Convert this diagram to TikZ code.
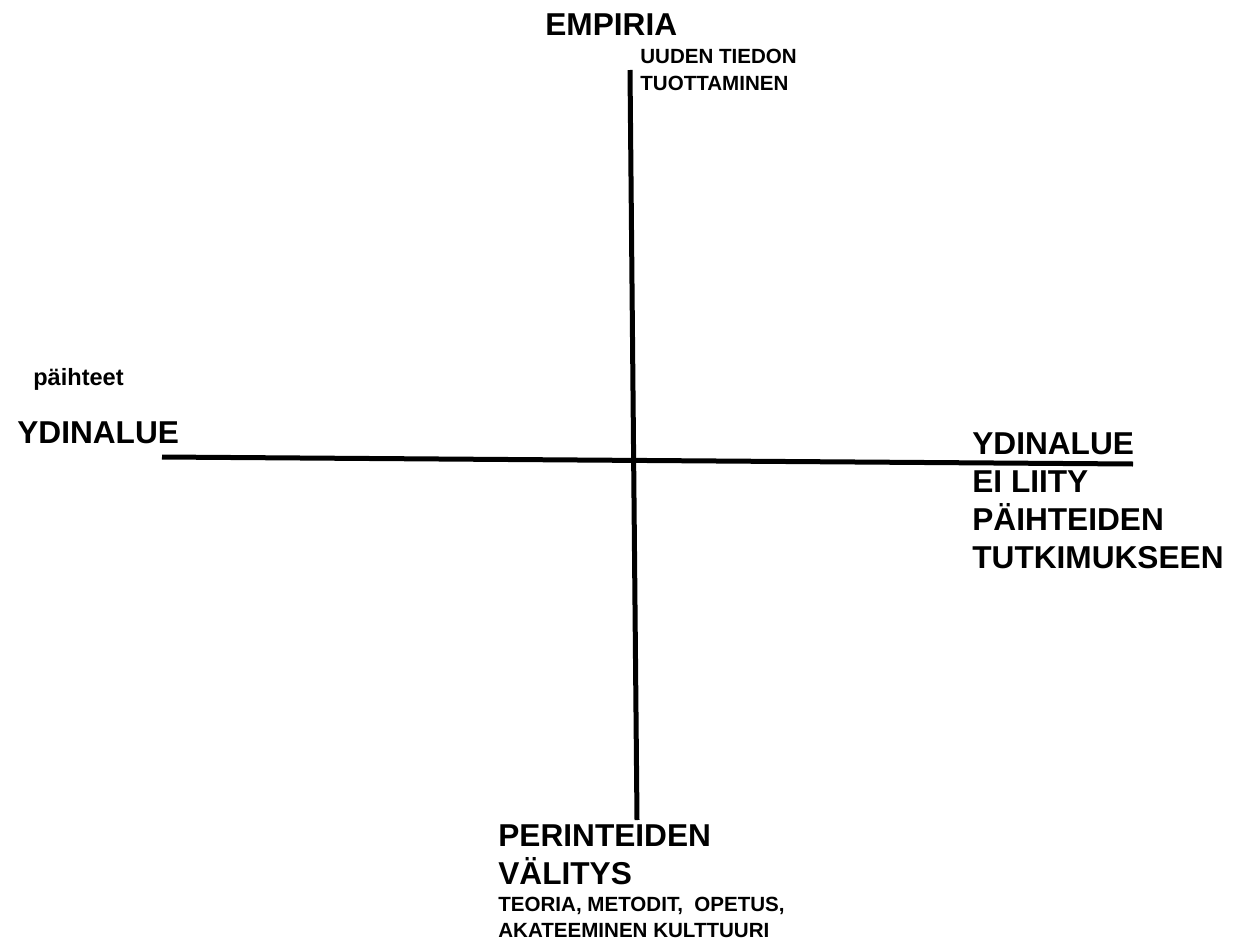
\documentclass[tikz,border=0pt]{standalone}
\usepackage{fontspec}
\setmainfont{Liberation Sans}
\usetikzlibrary{positioning}

\begin{document}
\begin{tikzpicture}[line cap=butt,line join=round,x=0.02cm,y=-0.02cm,
    axis/.style={line width=0.1cm,color=black},
    biglabel/.style={font=\bfseries\fontsize{18}{21.6}\selectfont,inner sep=0pt,align=left},
    smalllabel/.style={font=\bfseries\fontsize{11.7}{14.8}\selectfont,inner sep=0pt,align=left}]
    \useasboundingbox (0,0) rectangle (1241,943);
    % axes
    \coordinate (top) at (630,70);
    \coordinate (bottom) at (637,820);
    \coordinate (left) at (162,457);
    \coordinate (right) at (1133,464);
    \draw[axis] (top) -- (bottom);
    \draw[axis] (left) -- (right);
    % labels (base west = baseline of the last line)
    \node[biglabel,anchor=base west] (empiria) at (545,35) {EMPIRIA};
    \node[smalllabel,anchor=base west] (uusi) at (640,90) {UUDEN TIEDON\\TUOTTAMINEN};
    \node[smalllabel,font=\bfseries\fontsize{13.4}{16}\selectfont,anchor=base west] (paihteet) at (33,385) {päihteet};
    \node[biglabel,anchor=base west] (ydinvasen) at (17,443) {YDINALUE};
    \node[biglabel,anchor=base west] (ydinoikea) at (972,568) {YDINALUE\\EI LIITY\\PÄIHTEIDEN\\TUTKIMUKSEEN};
    \node[biglabel,anchor=base west] (perinteet) at (498,884) {PERINTEIDEN\\VÄLITYS};
    \node[smalllabel,anchor=base west] (teoria) at (498,937) {TEORIA, METODIT,\ \ OPETUS,\\AKATEEMINEN KULTTUURI};
\end{tikzpicture}
\end{document}
